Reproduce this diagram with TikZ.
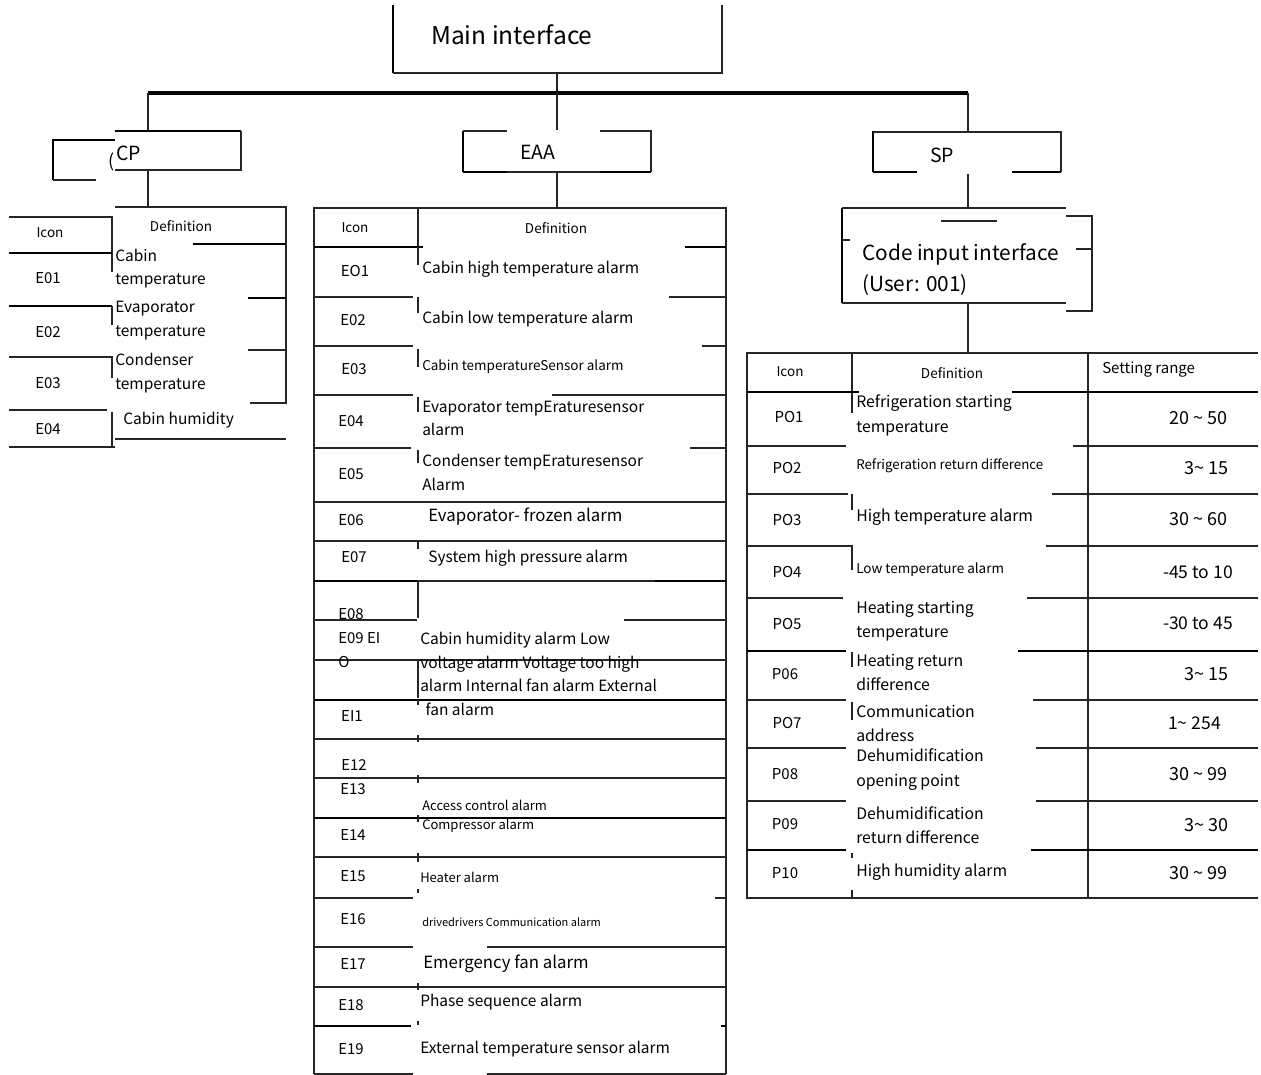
\documentclass[tikz,border=0pt]{standalone}
\usepackage{fontspec}
\setmainfont{Noto Sans CJK SC}
\newcommand\pxf[1]{\fontsize{\fpeval{0.75*#1}pt}{\fpeval{1.15*#1}pt}\selectfont}
\tikzset{
  ln/.style={line width=1pt, black!85},
  lnb/.style={line width=2.1pt, black},
  conn/.style={line width=1.1pt, black!85},
  bus/.style={line width=2.4pt, black},
  tw/.style={inner sep=0pt, anchor=west, align=left},
  tc/.style={inner sep=0pt, anchor=center, align=center},
  te/.style={inner sep=0pt, anchor=east, align=right},
  fs/.style={font=\pxf{#1}},
}
\begin{document}
\begin{tikzpicture}[x=0.75pt,y=-0.75pt]
\fill[white] (0,0) rectangle (1261,1075);
\useasboundingbox (0,0) rectangle (1261,1075);

% ---------- main interface ----------
\draw[lnb] (393,5) -- (393,73);
\draw[ln] (393,73) -- (722,73) -- (722,5);
\node[tw,fs=24.5] (main) at (431,35) {Main interface};

% ---------- tree connectors ----------
\coordinate (mainB) at (557,73);
\coordinate (busM) at (557,93);
\coordinate (busL) at (148,93);
\coordinate (busR) at (968,93);
\coordinate (cpT) at (148,131);
\coordinate (cpB) at (148,170);
\coordinate (cpTab) at (148,207);
\coordinate (eaaT) at (557,130);
\coordinate (eaaB) at (557,172);
\coordinate (eaaTab) at (557,208);
\coordinate (spT) at (968,132);
\coordinate (spB) at (968,174);
\coordinate (ciT) at (968,208);
\coordinate (ciB) at (968,303);
\coordinate (spTab) at (968,353);
\draw[ln] (mainB) -- (busM);
\draw[bus] (busL) -- (busR);
\draw[conn] (busL) -- (cpT);
\draw[conn] (busM) -- (eaaT);
\draw[conn] (busR) -- (spT);
\draw[conn] (cpB) -- (cpTab);
\draw[conn] (eaaB) -- (eaaTab);
\draw[conn] (spB) -- (ciT);
\draw[conn] (ciB) -- (spTab);

% ---------- CP box ----------
\draw[lnb] (115,131) -- (241,131);
\draw[ln] (241,131) -- (241,170) -- (115,170);
\draw[lnb] (115,140) -- (53,140) -- (53,180);
\draw[ln] (53,180) -- (96,180);
\node[tw,fs=19.5] (cp) at (116,153) {CP};
\node[tw,fs=18] (cpparen) at (108,162) {(};

% ---------- EAA box ----------
\draw[lnb] (463,131) -- (463,172);
\draw[ln] (463,131) -- (507,131);
\draw[ln] (600,131) -- (651,131) -- (651,172);
\draw[lnb] (463,172) -- (507,172);
\draw[ln] (507,172) -- (600,172);
\draw[lnb] (600,172) -- (651,172);
\node[tc,fs=19.5] (eaa) at (538,152) {EAA};

% ---------- SP box ----------
\draw[lnb] (873,131) -- (873,172);
\draw[ln] (873,132) -- (1061,132) -- (1061,172);
\draw[lnb] (873,172) -- (917,172);
\draw[lnb] (1012,172) -- (1061,172);
\node[tc,fs=19.5] (sp) at (942,155) {SP};

% ---------- code input box ----------
\draw[ln] (1066,208) -- (842,208);
\draw[lnb] (842,208) -- (842,303);
\draw[ln] (842,303) -- (1066,303);
\draw[ln] (941,221) -- (997,221);
\draw[ln] (842,240) -- (850,240);
\draw[ln] (1066,216) -- (1092,216) -- (1092,311) -- (1066,311);
\draw[ln] (1076,249) -- (1092,249);
\node[tw,fs=20.8] (code) at (862,254) {Code input interface};
\node[tw,fs=20.8] (user) at (862,285) {(User: 001)};

% ---------- CP table ----------
\draw[ln] (115,207) -- (286,207) -- (286,403) -- (250,403);
\draw[ln] (9,217) -- (112,217) -- (112,272);
\draw[lnb] (9,253) -- (112,253);
\draw[lnb] (193,244) -- (286,244);
\draw[lnb] (248,298) -- (286,298);
\draw[lnb] (9,306) -- (112,306);
\draw[ln] (112,306) -- (112,325);
\draw[ln] (9,357) -- (112,357) -- (112,378);
\draw[ln] (248,350) -- (286,350);
\draw[ln] (9,410) -- (107,410);
\draw[ln] (112,412) -- (112,447);
\draw[ln] (9,447) -- (115,447);
\draw[ln] (115,439) -- (286,439);

\node[tc,fs=13.5] (cpicon) at (50,233) {Icon};
\node[tc,fs=13.5] (cpdef) at (181,226) {Definition};
\node[tc,fs=15] (cpe1) at (48,278) {E01};
\node[tc,fs=15] (cpe2) at (48,332) {E02};
\node[tc,fs=15] (cpe3) at (48,383) {E03};
\node[tc,fs=15] (cpe4) at (48,429) {E04};
\node[tw,fs=15.5] (cpd1) at (115,268.5) {Cabin\\temperature};
\node[tw,fs=15.5] (cpd2) at (115,320.5) {Evaporator\\temperature};
\node[tw,fs=15.5] (cpd3) at (115,373) {Condenser\\temperature};
\node[tw,fs=15.5] (cpd4) at (123,420) {Cabin humidity};

% ---------- EAA table ----------
\draw[ln] (314,1074) -- (314,208) -- (726,208) -- (726,1074);
\draw[ln] (418,208) -- (418,248);
\draw[lnb] (314,247) -- (423,247);
\draw[lnb] (685,247) -- (726,247);
\draw[ln] (418,247) -- (418,265);
\draw[ln] (314,297) -- (413,297); \draw[ln] (669,297) -- (726,297); \draw[ln] (418,297) -- (418,313);
\draw[ln] (314,346) -- (413,346); \draw[ln] (702,346) -- (726,346); \draw[ln] (418,349) -- (418,367);
\draw[ln] (314,395) -- (413,395); \draw[ln] (552,395) -- (726,395); \draw[ln] (418,397) -- (418,412);
\draw[ln] (314,448) -- (411,448); \draw[ln] (690,448) -- (726,448); \draw[ln] (418,450) -- (418,463);
\draw[ln,line width=1.4pt] (314,502) -- (726,502);
\draw[ln] (314,541) -- (726,541); \draw[ln] (418,541) -- (418,549);
\draw[lnb] (314,581) -- (418,581); \draw[ln] (418,581) -- (655,581); \draw[lnb] (655,581) -- (726,581);
\draw[ln] (418,581) -- (418,618);
\draw[ln] (314,620) -- (417,620); \draw[ln] (624,620) -- (726,620);
\draw[ln] (314,660) -- (726,660); \draw[ln] (418,660) -- (418,698);
\draw[lnb] (314,700) -- (726,700); \draw[ln] (418,700) -- (418,705);
\draw[ln] (314,739) -- (726,739); \draw[ln] (418,735) -- (418,742);
\draw[ln] (314,778) -- (726,778); \draw[ln] (418,775) -- (418,783);
\draw[lnb] (314,818) -- (726,818); \draw[ln] (418,815) -- (418,822);
\draw[ln] (314,857) -- (726,857); \draw[ln] (418,853) -- (418,862);
\draw[ln] (314,898) -- (413,898); \draw[ln] (715,898) -- (726,898); \draw[ln] (418,889) -- (418,893);
\draw[ln] (314,947) -- (413,947); \draw[ln] (487,947) -- (726,947);
\draw[ln] (314,987) -- (726,987); \draw[ln] (418,983) -- (418,990);
\draw[lnb] (314,1026) -- (411,1026); \draw[lnb] (721,1026) -- (726,1026); \draw[ln] (418,1021) -- (418,1025);
\draw[ln] (314,1074) -- (413,1074); \draw[ln] (487,1074) -- (726,1074);

\node[tc,fs=13.5] (eicon) at (355,228) {Icon};
\node[tc,fs=13.5] (edef) at (556,228) {Definition};
\node[tc,fs=15] (e1) at (355,271) {EO1};
\node[tc,fs=15] (e2) at (353,320) {E02};
\node[tc,fs=15] (e3) at (354,369) {E03};
\node[tc,fs=15] (e4) at (351,421) {E04};
\node[tc,fs=15] (e5) at (351,474) {E05};
\node[tc,fs=15] (e6) at (351,520) {E06};
\node[tc,fs=15] (e7) at (354,557) {E07};
\node[tw,fs=15] (e8) at (338,614) {E08};
\node[tw,fs=15] (e9) at (338,638) {E09 EI};
\node[tw,fs=15] (e10) at (338,662) {O};
\node[tc,fs=15] (e11) at (352,716) {EI1};
\node[tc,fs=15] (e12) at (354,765) {E12};
\node[tc,fs=15] (e13) at (353,789) {E13};
\node[tc,fs=15] (e14) at (353,835) {E14};
\node[tc,fs=15] (e15) at (353,876) {E15};
\node[tc,fs=15] (e16) at (353,919) {E16};
\node[tc,fs=15] (e17) at (353,964) {E17};
\node[tc,fs=15] (e18) at (351,1005) {E18};
\node[tc,fs=15] (e19) at (351,1049) {E19};

\node[tw,fs=15.5] (d1) at (422,269) {Cabin high temperature alarm};
\node[tw,fs=15.5] (d2) at (422,319) {Cabin low temperature alarm};
\node[tw,fs=13.5] (d3) at (422,367) {Cabin temperatureSensor alarm};
\node[tw,fs=15.5] (d4) at (422,418.5) {Evaporator tempEraturesensor\\alarm};
\node[tw,fs=15.5] (d5) at (422,472.5) {Condenser tempEraturesensor\\Alarm};
\node[tw,fs=16.8] (d6) at (428,517) {Evaporator- frozen alarm};
\node[tw,fs=15.5] (d7) at (428,558) {System high pressure alarm};
\node[tw,fs=15.5] (d8) at (420,674) {Cabin humidity alarm Low\\voltage alarm Voltage too high\\alarm Internal fan alarm External\\\hspace{4pt}fan alarm};
\node[tw,fs=13] (d13) at (422,805) {Access control alarm};
\node[tw,fs=13] (d14) at (422,826) {Compressor alarm};
\node[tw,fs=13] (d15) at (420,877) {Heater alarm};
\node[tw,fs=11] (d16) at (422,922) {drivedrivers Communication alarm};
\node[tw,fs=16.8] (d17) at (423,964) {Emergency fan alarm};
\node[tw,fs=15.5] (d18) at (420,1002) {Phase sequence alarm};
\node[tw,fs=15.5] (d19) at (420,1049) {External temperature sensor alarm};

% ---------- SP table ----------
\draw[ln] (747,899) -- (747,353) -- (1258,353);
\draw[ln] (852,353) -- (852,413);
\draw[ln] (1088,353) -- (1088,899);
\draw[lnb] (747,392) -- (859,392); \draw[lnb] (1012,392) -- (1258,392);
\draw[ln] (747,446) -- (846,446); \draw[ln] (1073,446) -- (1258,446);
\draw[ln] (747,494) -- (848,494); \draw[ln] (1052,494) -- (1258,494); \draw[ln] (852,494) -- (852,510);
\draw[ln] (747,546) -- (852,546) -- (852,570); \draw[ln] (1046,546) -- (1258,546);
\draw[ln] (747,598) -- (843,598); \draw[ln] (1027,598) -- (1258,598);
\draw[lnb] (747,651) -- (846,651); \draw[lnb] (1018,651) -- (1258,651); \draw[ln] (852,652) -- (852,667);
\draw[ln] (747,700) -- (846,700); \draw[ln] (1033,700) -- (1258,700); \draw[ln] (852,702) -- (852,720);
\draw[ln] (747,748) -- (846,748); \draw[ln] (1036,748) -- (1258,748);
\draw[ln] (747,801) -- (846,801); \draw[ln] (1036,801) -- (1258,801);
\draw[lnb] (747,850) -- (846,850); \draw[lnb] (1031,850) -- (1258,850); \draw[ln] (852,853) -- (852,858);
\draw[ln] (747,898) -- (1258,898); \draw[ln] (852,890) -- (852,898);

\node[tc,fs=13.5] (picon) at (790,372) {Icon};
\node[tc,fs=13.5] (pdef) at (952,373) {Definition};
\node[tw,fs=15] (prange) at (1102,370) {Setting range};
\node[tc,fs=15] (p1) at (789,417) {PO1};
\node[tc,fs=15] (p2) at (787,468) {PO2};
\node[tc,fs=15] (p3) at (787,520) {PO3};
\node[tc,fs=15] (p4) at (787,572) {PO4};
\node[tc,fs=15] (p5) at (787,624) {PO5};
\node[tc,fs=15] (p6) at (785,674) {P06};
\node[tc,fs=15] (p7) at (787,723) {PO7};
\node[tc,fs=15] (p8) at (785,774) {P08};
\node[tc,fs=15] (p9) at (785,824) {P09};
\node[tc,fs=15] (p10) at (785,873) {P10};

\node[tw,fs=15.8] (pd1) at (856,415.5) {Refrigeration starting\\temperature};
\node[tw,fs=13.3] (pd2) at (856,466) {Refrigeration return difference};
\node[tw,fs=15.8] (pd3) at (856,517) {High temperature alarm};
\node[tw,fs=13.5] (pd4) at (856,570) {Low temperature alarm};
\node[tw,fs=15.8] (pd5) at (856,621.5) {Heating starting\\temperature};
\node[tw,fs=15.8] (pd6) at (856,672.5) {Heating return\\difference};
\node[tw,fs=15.8] (pd7) at (856,723.5) {Communication\\address};
\node[tw,fs=15.8] (pd8) at (856,769.5) {Dehumidification\\opening point};
\node[tw,fs=15.8] (pd9) at (856,825.5) {Dehumidification\\return difference};
\node[tw,fs=15.8] (pd10) at (856,872) {High humidity alarm};

\node[te,fs=18] (r1) at (1228,418) {20 \textasciitilde{} 50};
\node[te,fs=18] (r2) at (1229,468) {3\textasciitilde{} 15};
\node[te,fs=18] (r3) at (1228,519) {30 \textasciitilde{} 60};
\node[te,fs=17.5] (r4) at (1233,572) {-45 to 10};
\node[te,fs=17.5] (r5) at (1233,623) {-30 to 45};
\node[te,fs=18] (r6) at (1229,674) {3\textasciitilde{} 15};
\node[te,fs=17.5] (r7) at (1221,723) {1\textasciitilde{} 254};
\node[te,fs=18] (r8) at (1228,774) {30 \textasciitilde{} 99};
\node[te,fs=18] (r9) at (1229,825) {3\textasciitilde{} 30};
\node[te,fs=18] (r10) at (1228,873) {30 \textasciitilde{} 99};
\end{tikzpicture}
\end{document}
